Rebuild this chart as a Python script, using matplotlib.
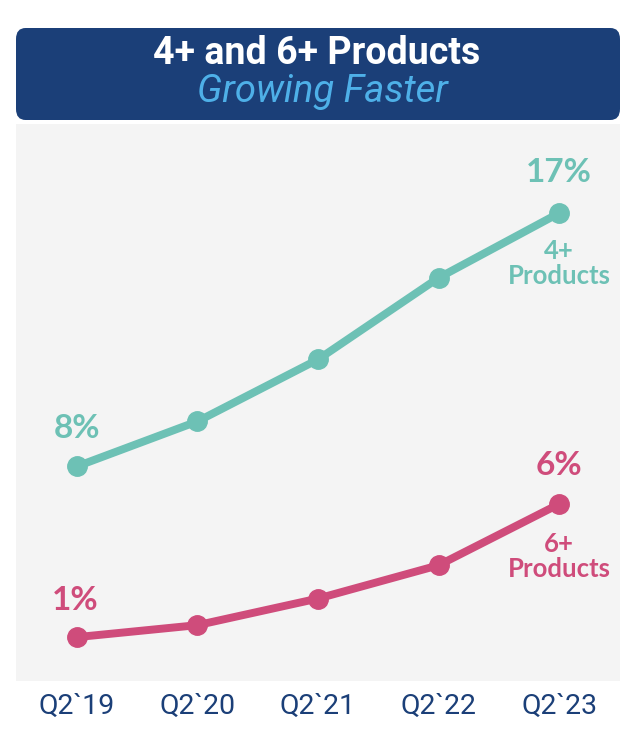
import matplotlib
matplotlib.use("Agg")
import matplotlib.pyplot as plt
from matplotlib.patches import FancyBboxPatch

categories = ["Q2`19", "Q2`20", "Q2`21", "Q2`22", "Q2`23"]
four_plus = [8.0, 9.6, 11.8, 14.7, 17.0]
six_plus = [1.0, 1.45, 2.45, 3.7, 6.0]
title = "4+ and 6+ Products"
subtitle = "Growing Faster"

TEAL = "#6dc1b5"
PINK = "#cf4c7b"
NAVY = "#1b3f78"
SKY = "#4eb0e8"

W, H = 640, 733
fig = plt.figure(figsize=(W / 100, H / 100), dpi=100)
fig.patch.set_facecolor("white")

def fx(px):
    return px / W

def fy(py):
    return 1 - py / H

# title box
box = FancyBboxPatch((fx(16), fy(120)), fx(620) - fx(16), fy(28) - fy(120),
                     boxstyle="round,pad=0,rounding_size=0.015",
                     transform=fig.transFigure, facecolor=NAVY, edgecolor="none")
fig.patches.append(box)
fig.text(fx(317), fy(53), title, ha="center", va="center", color="white",
         fontsize=27, fontweight="bold", family=["Roboto", "DejaVu Sans"])
fig.text(fx(322), fy(92), subtitle, ha="center", va="center", color=SKY,
         fontsize=27.5, style="italic", family=["Roboto", "DejaVu Sans"])

# plot area
left, right, top, bottom = 16, 620, 124, 681
ax = fig.add_axes([fx(left), fy(bottom), fx(right) - fx(left), fy(top) - fy(bottom)])
ax.set_facecolor("#f4f4f4")
ax2 = ax.twinx()

x = list(range(len(categories)))
ax.plot(x, four_plus, color=TEAL, lw=5.7, marker="o", ms=14, solid_capstyle="round", zorder=3)
ax2.plot(x, six_plus, color=PINK, lw=5.7, marker="o", ms=14, solid_capstyle="round", zorder=3)

ax.set_xlim(-0.506, 4.506)
ax.set_ylim(0.37, 20.17)
ax2.set_ylim(-0.65, 20.29)

for a in (ax, ax2):
    for s in a.spines.values():
        s.set_visible(False)
    a.tick_params(left=False, right=False, labelleft=False, labelright=False, bottom=False)

ax.set_xticks(x)
ax.set_xticklabels(categories, color=NAVY, fontsize=20.5, family=["Roboto", "DejaVu Sans"])
ax.tick_params(axis="x", pad=5)

lab_kw = dict(ha="center", va="center", fontweight="bold", family=["Lato", "DejaVu Sans"])
ax.annotate(f"{four_plus[0]:.0f}%", (x[0], four_plus[0]), xytext=(0, 27.5), textcoords="offset points",
            color=TEAL, fontsize=24, **lab_kw)
ax.annotate(f"{four_plus[-1]:.0f}%", (x[-1], four_plus[-1]), xytext=(0, 29.5), textcoords="offset points",
            color=TEAL, fontsize=24, **lab_kw)
ax.annotate("4+\nProducts", (x[-1], four_plus[-1]), xytext=(0, -36), textcoords="offset points",
            color=TEAL, fontsize=18.5, linespacing=1.05, **lab_kw)
ax2.annotate(f"{six_plus[0]:.0f}%", (x[0], six_plus[0]), xytext=(-1, 26.5), textcoords="offset points",
             color=PINK, fontsize=24, **lab_kw)
ax2.annotate(f"{six_plus[-1]:.0f}%", (x[-1], six_plus[-1]), xytext=(0, 28), textcoords="offset points",
             color=PINK, fontsize=24, **lab_kw)
ax2.annotate("6+\nProducts", (x[-1], six_plus[-1]), xytext=(0, -37.5), textcoords="offset points",
             color=PINK, fontsize=18.5, linespacing=1.05, **lab_kw)

fig.savefig("out.png", dpi=100)
